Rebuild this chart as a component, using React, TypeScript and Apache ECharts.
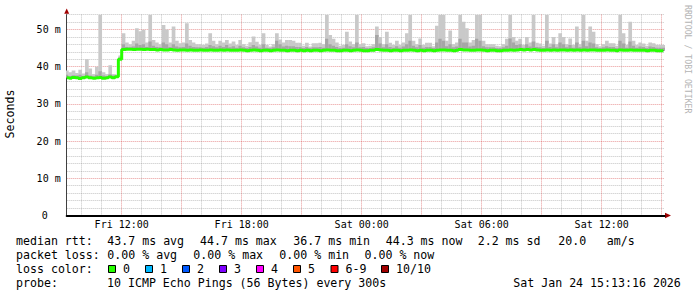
import React, { useEffect, useRef } from 'react';
import * as echarts from 'echarts';

// time is in minutes since Fri 00:00
const startMinute = 555; // Fri 09:15, first sample
const stepMinutes = 10;
const axisMinMinute = 555;
const axisMaxMinute = 2349;

const medianRtt = [
  37.0, 36.9, 37.1, 37.0, 36.8, 37.0, 37.2, 37.0, 36.9, 37.0, 37.1, 36.9, 37.0, 37.2, 37.0, 37.3,
  42.0,
  44.6, 44.7, 44.7, 44.6, 44.7, 44.7, 44.6, 44.7, 44.6, 44.6, 44.5, 44.6, 44.5, 44.5, 44.6, 44.5, 44.4, 44.5, 44.5, 44.4, 44.5, 44.4, 44.4,
  44.5, 44.4, 44.4, 44.5, 44.4, 44.4, 44.5, 44.4, 44.5, 44.4, 44.4, 44.4, 44.5, 44.4, 44.3, 44.4, 44.5, 44.4, 44.3, 44.4,
  44.4, 44.3, 44.4, 44.5, 44.4, 44.4, 44.3, 44.4, 44.4, 44.3, 44.4, 44.3, 44.4, 44.3, 44.4, 44.4, 44.3, 44.4, 44.5, 44.4,
  44.4, 44.3, 44.3, 44.4, 44.4, 44.3, 44.4, 44.5, 44.4, 44.3, 44.3, 44.4, 44.4, 44.6, 44.5, 44.4, 44.4, 44.3, 44.4, 44.4,
  44.3, 44.4, 44.4, 44.5, 44.4, 44.3, 44.4, 44.3, 44.4, 44.4, 44.3, 44.4, 44.5, 44.5, 44.4, 44.4, 44.3, 44.4, 44.6, 44.5,
  44.5, 44.4, 44.4, 44.5, 44.5, 44.4, 44.3, 44.4, 44.4, 44.3, 44.3, 44.4, 44.4, 44.5, 44.4, 44.5, 44.6, 44.5, 44.6, 44.5,
  44.6, 44.5, 44.4, 44.4, 44.5, 44.4, 44.5, 44.4, 44.5, 44.5, 44.4, 44.5, 44.4, 44.5, 44.4, 44.5, 44.4, 44.5, 44.5, 44.4,
  44.4, 44.4, 44.5, 44.4, 44.4, 44.3, 44.5, 44.4, 44.4, 44.5, 44.4, 44.4, 44.4, 44.4, 44.3, 44.4, 44.4, 44.3, 44.3, 44.3,
];

const smokeMid = [
  37.8, 37.5, 37.7, 37.6, 37.8, 37.5, 38.5, 37.6, 37.4, 37.8, 38.8, 37.6, 37.5, 38.0, 37.6, 37.5,
  42.5,
  46.0, 45.3, 45.2, 45.4, 46.2, 45.8, 46.0, 45.3, 46.8, 45.6, 45.3, 45.2, 46.5,
  46.0, 45.3, 46.0, 45.4, 45.2, 45.3, 46.2, 45.6, 45.3, 45.2,
  45.2, 45.1, 45.3, 45.8, 45.5, 45.2, 45.6, 45.3, 45.8, 45.2,
  45.5, 45.1, 45.6, 45.2, 45.0, 45.3, 45.8, 45.4, 45.1, 46.0,
  45.1, 45.0, 45.2, 47.0, 46.0, 45.4, 45.6, 45.5, 45.5, 45.3,
  45.3, 45.0, 45.3, 45.0, 45.2, 45.2, 45.3, 45.1, 47.5, 46.0,
  45.6, 45.3, 45.0, 45.1, 46.0, 45.5, 45.2, 46.5, 45.2, 45.3,
  45.0, 45.0, 45.2, 48.5, 46.2, 45.2, 46.0, 45.3, 45.1, 45.5,
  45.1, 45.4, 46.0, 47.0, 45.6, 45.2, 45.8, 45.1, 45.3, 45.3,
  45.0, 46.5, 47.5, 47.0, 45.5, 46.0, 45.2, 45.4, 47.5, 46.5,
  46.5, 45.4, 45.6, 47.5, 47.0, 45.5, 45.2, 45.2, 45.2, 45.0,
  45.0, 45.2, 45.6, 47.6, 46.5, 45.8, 46.0, 45.1, 46.0, 45.4,
  46.8, 45.3, 45.2, 45.0, 47.0, 45.3, 46.0, 45.2, 46.5, 46.0,
  45.2, 45.8, 45.1, 46.5, 45.2, 47.0, 45.5, 46.5, 46.2, 45.2,
  45.0, 45.2, 45.5, 45.3, 45.3, 45.0, 47.0, 46.2, 45.1, 46.8,
  45.6, 45.1, 45.4, 45.3, 45.0, 45.4, 45.3, 45.1, 45.1, 45.1,
];

const smokeMax = [
  39.0, 38.5, 39.0, 38.3, 39.2, 38.2, 42.0, 39.5, 38.0, 40.0, 53.9, 38.5, 38.0, 40.4, 38.0, 37.8,
  43.0,
  49.0, 46.5, 46.0, 47.0, 50.3, 49.5, 49.9, 46.5, 53.9, 47.2, 46.5, 46.0, 51.2,
  50.0, 46.5, 50.8, 47.0, 46.3, 46.5, 51.7, 47.2, 46.5, 46.0,
  46.0, 45.8, 46.2, 49.0, 47.0, 46.0, 47.0, 46.5, 47.2, 46.2,
  46.8, 45.8, 47.2, 46.0, 45.6, 46.6, 48.1, 46.7, 45.8, 49.0,
  45.8, 45.4, 46.0, 49.0, 47.3, 46.5, 47.2, 47.2, 47.0, 46.4,
  46.4, 45.6, 46.4, 45.4, 46.3, 46.3, 46.4, 46.0, 53.9, 48.5,
  47.5, 46.5, 45.6, 45.8, 49.4, 46.8, 46.0, 53.9, 46.0, 46.3,
  45.5, 45.6, 46.0, 50.8, 48.0, 46.0, 49.4, 46.4, 45.8, 47.0,
  45.8, 46.5, 49.0, 53.9, 47.0, 46.0, 47.6, 45.8, 46.4, 46.4,
  45.5, 51.0, 53.9, 53.9, 47.0, 49.7, 46.0, 46.5, 53.9, 52.1,
  50.3, 46.5, 47.2, 53.9, 53.9, 47.0, 46.0, 46.0, 46.0, 45.6,
  45.5, 46.0, 47.5, 53.9, 48.0, 47.0, 47.5, 45.8, 48.0, 46.5,
  53.9, 46.4, 46.2, 45.6, 53.9, 46.2, 48.0, 46.0, 49.0, 48.0,
  46.0, 47.6, 45.8, 50.8, 46.0, 53.9, 47.0, 50.8, 49.4, 46.0,
  45.5, 46.0, 47.0, 46.3, 46.3, 45.6, 53.9, 49.0, 45.8, 52.1,
  47.0, 45.8, 46.5, 46.2, 45.6, 46.5, 46.3, 45.8, 45.8, 45.8,
];

const xTickMinutes = [720, 1080, 1440, 1800, 2160];
const xTickLabels = ['Fri 12:00', 'Fri 18:00', 'Sat 00:00', 'Sat 06:00', 'Sat 12:00'];

const rttStats = ['43.7 ms avg', '44.7 ms max', '36.7 ms min', '44.3 ms now', '2.2 ms sd', '20.0', 'am/s'];
const lossStats = ['0.00 % avg', '0.00 % max', '0.00 % min', '0.00 % now'];
const lossLabels = ['0', '1', '2', '3', '4', '5', '6-9', '10/10'];
const lossColors = ['#26ff00', '#00b8ff', '#0059ff', '#7e00ff', '#ff00ff', '#ff5500', '#ff0000', '#a10000'];
const probeText = '10 ICMP Echo Pings (56 Bytes) every 300s';
const dateText = 'Sat Jan 24 15:13:16 2026';

const MONO = '"DejaVu Sans Mono", monospace';

export default function App() {
  const ref = useRef<HTMLDivElement>(null);

  useEffect(() => {
    if (!ref.current) return;
    const chart = echarts.init(ref.current, null, { renderer: 'svg' });

    const xs = medianRtt.map((_, i) => startMinute + i * stepMinutes);
    const medianPts = medianRtt.map((v, i) => [xs[i], v]);
    const smokePts = medianRtt.map((v, i) => [xs[i], v, smokeMid[i], smokeMax[i]]);

    const T = 'rgba(0,0,0,0)';
    const minorC = 'rgba(140,140,140,0.5)';
    const majorC = 'rgba(215,70,70,0.55)';
    const xSplitColors = [T, T, T, minorC, T, T, T, minorC, T, T, T, majorC];
    const ySplitColors = [majorC, minorC, minorC, minorC, minorC];

    const font = (s: number) => `${s}px ${MONO}`;
    const txt = (text: string, x: number, y: number, extra: any = {}) => ({
      type: 'text',
      x,
      y,
      silent: true,
      style: { text, font: font(11.6), fill: '#000', align: 'left', verticalAlign: 'middle', ...extra },
    });

    const statX1 = [107.3, 200, 293.3, 385.7, 477.7, 558.3, 606.7];
    const statX2 = [107.3, 193.3, 279.3, 364.5];
    const boxX = [108.5, 145.5, 182.5, 219.5, 256.5, 293.5, 331, 381.5];

    const graphics: any[] = [];
    graphics.push(txt('median rtt:', 16, 241));
    rttStats.forEach((s, i) => graphics.push(txt(s, statX1[i], 241)));
    graphics.push(txt('packet loss:', 16, 255));
    lossStats.forEach((s, i) => graphics.push(txt(s, statX2[i], 255)));
    graphics.push(txt('loss color:', 16, 269));
    lossLabels.forEach((s, i) => {
      graphics.push({
        type: 'rect',
        silent: true,
        shape: { x: boxX[i], y: 265.5, width: 7, height: 7 },
        style: { fill: lossColors[i], stroke: '#000', lineWidth: 1 },
      });
      graphics.push(txt(s, boxX[i] + 14.5, 269));
    });
    graphics.push(txt('probe:', 16, 283));
    graphics.push(txt(probeText, 107, 283));
    graphics.push(txt(dateText, 513.3, 283));

    graphics.push({
      type: 'text', x: 10, y: 114, rotation: Math.PI / 2, silent: true,
      style: { text: 'Seconds', font: font(11.6), fill: '#000', align: 'center', verticalAlign: 'middle' },
    });
    graphics.push({
      type: 'text', x: 688, y: 5, rotation: -Math.PI / 2, silent: true,
      style: { text: 'RRDTOOL / TOBI OETIKER', font: font(8.2), fill: '#b4b4b4', align: 'left', verticalAlign: 'middle' },
    });
    graphics.push({
      type: 'polygon', silent: true,
      shape: { points: [[64.2, 13.8], [69.2, 13.8], [66.7, 8.5]] },
      style: { fill: '#a00000' },
    });
    graphics.push({
      type: 'polygon', silent: true,
      shape: { points: [[665, 212.8], [665, 218.2], [671, 215.5]] },
      style: { fill: '#a00000' },
    });

    const stepLine = (name: string, data: any[], extra: any) => ({
      name,
      type: 'line',
      data,
      step: 'middle',
      symbol: 'none',
      silent: true,
      animation: false,
      ...extra,
    });

    chart.setOption({
      animation: false,
      backgroundColor: '#ffffff',
      grid: {
        left: 66.7,
        right: 32.3,
        top: 14.6,
        bottom: 81.5,
        containLabel: false,
        outerBoundsMode: 'none',
      },
      xAxis: {
        type: 'value',
        min: axisMinMinute,
        max: axisMaxMinute,
        interval: 15,
        axisLine: { show: true, onZero: true, lineStyle: { color: '#000', width: 2 } },
        axisTick: { show: false },
        splitLine: { show: true, lineStyle: { color: xSplitColors, width: 1, type: [1, 1] } },
        axisLabel: {
          show: true,
          margin: 4,
          color: '#000',
          fontFamily: MONO,
          fontSize: 10,
          showMinLabel: true,
          showMaxLabel: true,
          formatter: (v: number) => {
            const k = xTickMinutes.indexOf(Math.round(v));
            return k >= 0 ? xTickLabels[k] : '';
          },
        },
      },
      yAxis: {
        type: 'value',
        min: 0,
        max: 54,
        interval: 2,
        axisLine: { show: true, lineStyle: { color: '#404040', width: 1 } },
        axisTick: { show: false },
        splitLine: { show: true, lineStyle: { color: ySplitColors, width: 1, type: [1, 1] } },
        axisLabel: {
          show: true,
          margin: 6,
          color: '#000',
          fontFamily: MONO,
          fontSize: 10,
          formatter: (v: number) => {
            if (Math.round(v) % 10 !== 0 || v > 50) return '';
            return v === 0 ? '{z|0}' : `${v} m`;
          },
          rich: { z: { fontFamily: MONO, fontSize: 10, color: '#000', padding: [0, 13, 0, 0] } },
        },
      },
      series: [
        {
          name: 'smoke',
          type: 'custom',
          silent: true,
          animation: false,
          clip: true,
          data: smokePts,
          encode: { x: 0, y: [1, 2, 3] },
          renderItem: (params: any, api: any) => {
            const x = api.value(0);
            const lo = api.value(1);
            const mid = api.value(2);
            const hi = api.value(3);
            const half = stepMinutes / 2;
            const pLeftHi = api.coord([x - half, hi]);
            const pRightLo = api.coord([x + half, lo]);
            const pMid = api.coord([x, mid]);
            const left = pLeftHi[0];
            const width = pRightLo[0] - left + 0.35;
            return {
              type: 'group',
              children: [
                {
                  type: 'rect',
                  shape: { x: left, y: pLeftHi[1], width, height: pRightLo[1] - pLeftHi[1] },
                  style: { fill: '#c9c9c9' },
                },
                {
                  type: 'rect',
                  shape: { x: left, y: pMid[1], width, height: pRightLo[1] - pMid[1] },
                  style: { fill: '#a6a6a6' },
                },
              ],
            };
          },
        },
        stepLine('medianBlack', medianPts, { lineStyle: { color: '#000', width: 1.2 } }),
        stepLine('median', medianPts, { lineStyle: { color: '#26ff00', width: 3 } }),
      ],
      graphic: graphics,
    });

    return () => chart.dispose();
  }, []);

  return (
    <div
      ref={ref}
      style={{ position: 'fixed', left: 0, top: 0, width: 697, height: 297, background: '#fff' }}
    />
  );
}
